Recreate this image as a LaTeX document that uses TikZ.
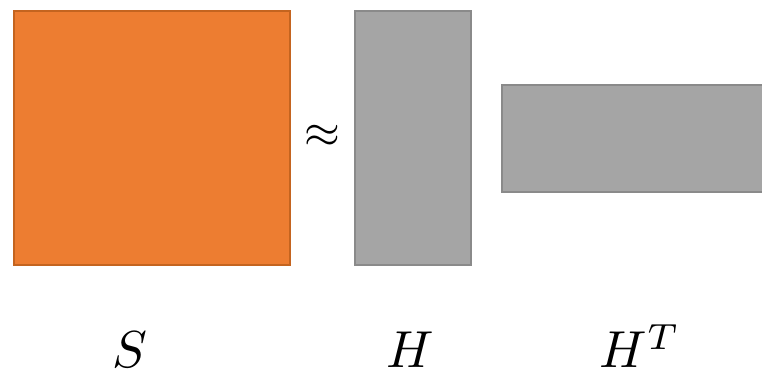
\documentclass[tikz,border=0pt]{standalone}
\usepackage{graphicx}
\usepackage{amsmath}
\definecolor{orangefill}{HTML}{ED7D31}
\definecolor{orangeedge}{HTML}{C4641F}
\definecolor{grayfill}{HTML}{A5A5A5}
\definecolor{grayedge}{HTML}{8A8A8A}
\begin{document}
\begin{tikzpicture}[x=1pt,y=-1pt,
  omat/.style={fill=orangefill,draw=orangeedge,line width=2pt},
  gmat/.style={fill=grayfill,draw=grayedge,line width=2pt},
  lbl/.style={inner sep=0pt}]
\useasboundingbox (0,0) rectangle (762,377);
\node[omat,minimum width=276pt,minimum height=253pt,inner sep=0pt] (S) at (152,138) {};
\node[gmat,minimum width=116pt,minimum height=253pt,inner sep=0pt] (H) at (412.5,138) {};
\node[gmat,minimum width=275pt,minimum height=107pt,inner sep=0pt,anchor=north west] (HT) at (501,84) {};
\node[inner sep=0pt] (approx) at (322,136) {\scalebox{4.6}{$\approx$}};
\node[lbl] (lS) at (130,350) {\scalebox{5.2}{$S$}};
\node[lbl] (lH) at (410,350) {\scalebox{5.2}{$H$}};
\node[lbl] (lHT) at (640,346) {\scalebox{5.2}{$H^T$}};
\end{tikzpicture}
\end{document}
